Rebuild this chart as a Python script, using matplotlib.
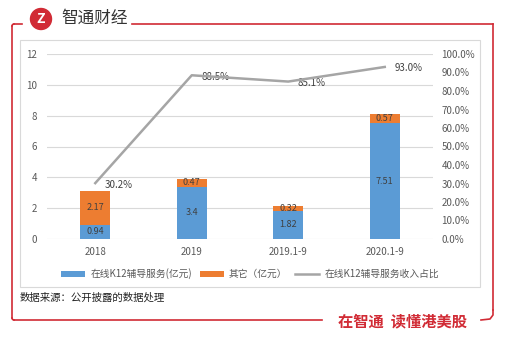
import matplotlib
matplotlib.use('Agg')
import matplotlib.pyplot as plt
from matplotlib.patches import Rectangle, Ellipse
from matplotlib.lines import Line2D
import numpy as np

plt.rcParams['font.family'] = ['Noto Sans CJK SC', 'DejaVu Sans']

periods = ['2018', '2019', '2019.1-9', '2020.1-9']
k12_online = [0.94, 3.4, 1.82, 7.51]
other = [2.17, 0.47, 0.32, 0.57]
k12_share = [30.2, 88.5, 85.1, 93.0]

blue = '#5B9BD5'
orange = '#ED7D31'
gray = '#A5A5A5'
red = '#D12B35'
txt = '#595959'

W, H = 509, 341
fig = plt.figure(figsize=(W / 100, H / 100), dpi=100)


def fx(px):
    return px / W


def fy(py):
    return 1 - py / H


# inner chart box
fig.add_artist(Rectangle((fx(20), fy(287)), fx(480) - fx(20), fy(40) - fy(287),
                         transform=fig.transFigure, fill=False,
                         edgecolor='#D9D9D9', linewidth=0.8))

ax = fig.add_axes([fx(47), fy(239), fx(433) - fx(47), fy(54) - fy(239)])
x = np.arange(len(periods))
bw = 0.31
ax.bar(x, k12_online, bw, color=blue, label='在线K12辅导服务(亿元)', zorder=2)
ax.bar(x, other, bw, bottom=k12_online, color=orange, label='其它（亿元）', zorder=2)

for i in range(len(periods)):
    ax.text(x[i], k12_online[i] / 2, f'{k12_online[i]:g}', ha='center', va='center',
            fontsize=6.5, color='#404040', zorder=3)
    ax.text(x[i], k12_online[i] + other[i] / 2, f'{other[i]:g}', ha='center', va='center',
            fontsize=6.5, color='#404040', zorder=3)

ax.set_ylim(0, 12)
ax.set_yticks(range(0, 13, 2))
ax.set_xlim(-0.5, len(periods) - 0.5)
ax.set_xticks(x)
ax.set_xticklabels(periods)
ax.grid(axis='y', color='#D9D9D9', linewidth=0.8, zorder=0)
for s in ax.spines.values():
    s.set_visible(False)
ax.tick_params(length=0, labelsize=7, colors=txt, pad=6)
ax.tick_params(axis='y', pad=7)

ax2 = ax.twinx()
ax2.plot(x, k12_share, color=gray, linewidth=1.8, label='在线K12辅导服务收入占比', zorder=4)
for i, v in enumerate(k12_share):
    ax2.annotate(f'{v:.1f}%', (x[i], v), xytext=(7, -1), textcoords='offset points',
                 ha='left', va='center', fontsize=7, color='#404040')
ax2.set_ylim(0, 100)
ax2.set_yticks(range(0, 101, 10))
ax2.set_yticklabels([f'{t:.1f}%' for t in range(0, 101, 10)])
for s in ax2.spines.values():
    s.set_visible(False)
ax2.tick_params(length=0, labelsize=7, colors=txt, pad=6)

h1, l1 = ax.get_legend_handles_labels()
h2, l2 = ax2.get_legend_handles_labels()
fig.legend(h1 + h2, l1 + l2, loc='center', bbox_to_anchor=(fx(250), fy(274)),
           ncol=3, frameon=False, fontsize=7, labelcolor=txt,
           handlelength=2.5, handleheight=0.6, columnspacing=0.8, handletextpad=0.5)

# source note
fig.text(fx(20), fy(298), '数据来源：公开披露的数据处理', fontsize=7.5, color='#222222',
         ha='left', va='center')

# red frame
lw = 1.2
frame = [
    ([22, 14], [24, 24]),
    ([12, 12], [26, 318]),
    ([14, 322], [320, 320]),
    ([132, 493], [24, 24]),
    ([493, 493], [24, 310]),
]
for xs, ys in frame:
    fig.add_artist(Line2D([fx(v) for v in xs], [fy(v) for v in ys],
                          transform=fig.transFigure, color=red, linewidth=lw))
fig.add_artist(Line2D([fx(12), fx(12.5), fx(14)], [fy(318), fy(319.5), fy(320)],
                      transform=fig.transFigure, color=red, linewidth=lw))
fig.add_artist(Line2D([fx(12), fx(12.5), fx(14)], [fy(26), fy(24.5), fy(24)],
                      transform=fig.transFigure, color=red, linewidth=lw))
fig.add_artist(Line2D([fx(481), fx(490), fx(493), fx(493)],
                      [fy(320), fy(319), fy(315), fy(310)],
                      transform=fig.transFigure, color=red, linewidth=lw))

# logo
fig.add_artist(Ellipse((fx(41), fy(19)), 21 / W, 21 / H, transform=fig.transFigure,
                       color=red, zorder=5))
fig.text(fx(41), fy(19), 'Z', fontsize=10, color='white', fontweight='bold',
         ha='center', va='center', fontstyle='italic', zorder=6)
fig.text(fx(61), fy(18), '智通财经', fontsize=12, color='#333333', ha='left', va='center')

fig.text(fx(402), fy(321), '在智通  读懂港美股', fontsize=11, color=red, fontweight='bold',
         ha='center', va='center')

fig.savefig('out.png', dpi=100)
